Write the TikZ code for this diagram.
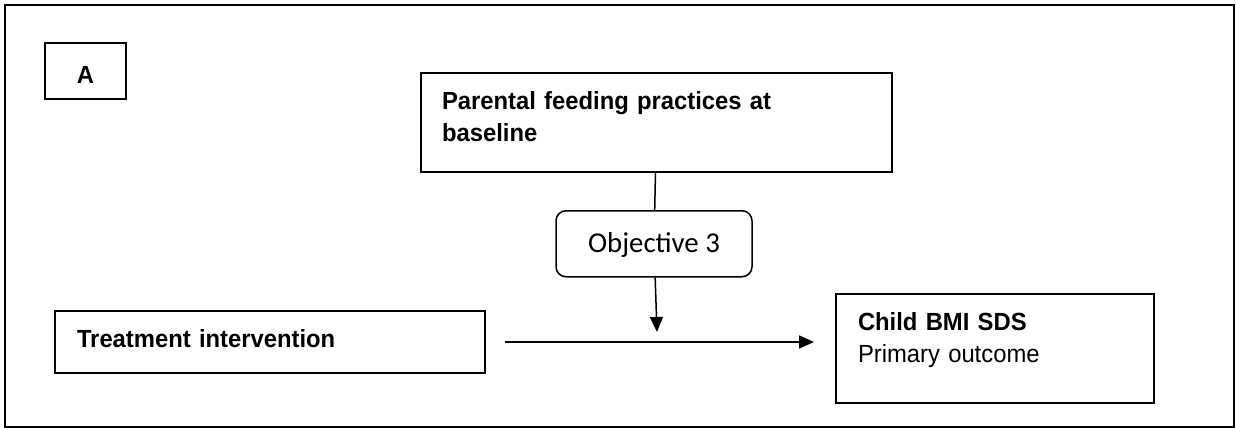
\documentclass[tikz,border=0pt]{standalone}
\usepackage{fontspec}
\setmainfont{Liberation Sans}[FakeStretch=0.96]
\newfontfamily\objfont{Carlito}
\usetikzlibrary{arrows.meta,positioning}

\begin{document}
\begin{tikzpicture}[
  x=0.5pt, y=-0.5pt,
  font=\fontsize{12.4}{16}\selectfont,
  box/.style={draw, line width=1pt, align=left, inner ysep=0pt},
  objbox/.style={draw, line width=0.75pt, rounded corners=5pt, align=center,
                 font=\objfont\fontsize{14.4}{17}\selectfont},
  ar/.style={line width=0.75pt, -{Triangle[length=7.5pt,width=6.5pt]}}
]
\useasboundingbox (0,0) rectangle (1236,428);
% outer frame
\draw[line width=1pt] (5,5) rectangle (1234,427);

\node[box, align=center, minimum width=40.5pt, minimum height=28pt,
      text height=12.3pt, text depth=0pt,
      font=\fontsize{12.4}{16}\selectfont\bfseries] (lab) at (85.5,71) {A};
\node[box, text width=214.5pt, inner xsep=10.5pt, minimum height=49.5pt,
      text height=9pt, text depth=22.5pt,
      font=\fontsize{12.4}{16}\selectfont\bfseries] (par) at (656.5,122.5)
  {Parental feeding practices at\\baseline};
\node[objbox, minimum width=98pt, minimum height=33pt, below=18.5pt of par,
      xshift=-1.25pt, text height=10pt, text depth=1pt] (obj) {Objective 3};
\node[box, text width=193pt, inner xsep=11pt, minimum height=31pt,
      text height=9pt, text depth=4pt,
      font=\fontsize{12.4}{16}\selectfont\bfseries] (treat) at (270,342)
  {Treatment intervention};
\node[box, text width=137pt, inner xsep=11pt, minimum height=54.5pt,
      text height=9pt, text depth=26.8pt] (child) at (995,348.5)
  {\textbf{Child BMI SDS}\\Primary outcome};

\coordinate (meet) at (657,332);

\draw[line width=0.75pt] (par) -- (obj);
\draw[ar] (obj) -- (meet);
\draw[ar, shorten <=9.5pt, shorten >=10.5pt] (treat.east) -- (treat.east -| child.west);
\end{tikzpicture}
\end{document}
